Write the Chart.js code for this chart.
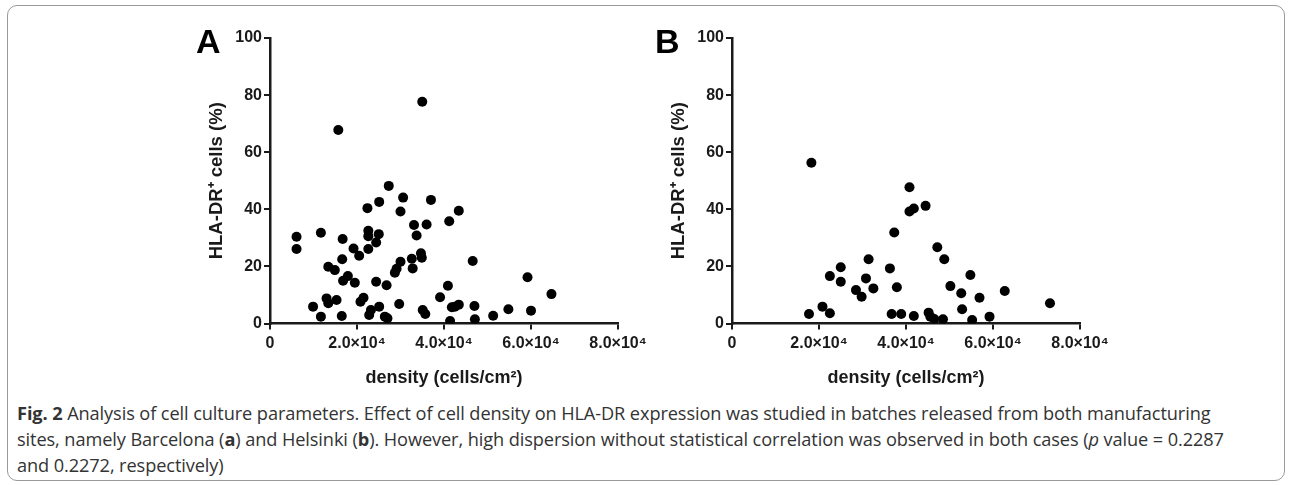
<!DOCTYPE html>
<html>
<head>
<meta charset="utf-8">
<script src="https://cdn.jsdelivr.net/npm/chart.js@4.4.0/dist/chart.umd.min.js"></script>
<style>
    html, body { margin: 0; padding: 0; background: #fff; }
    body { width: 1292px; height: 485px; position: relative; overflow: hidden; }
    .frame { position: absolute; left: 7px; top: 5px; width: 1276px; height: 474px;
             border: 1px solid #9a9a9a; border-radius: 10px; }
    canvas { position: absolute; }
    .panel-tag { position: absolute; font-family: "Liberation Sans", Arial, sans-serif;
                 font-weight: bold; font-size: 34px; line-height: 34px; color: #000; }
    .caption { position: absolute; left: 17px; top: 401px; width: 1265px;
               font-family: "Open Sans", sans-serif; font-size: 18.2px; line-height: 25.8px;
               color: #333; white-space: nowrap; letter-spacing: -0.1px; }
</style>
</head>
<body>
<div class="frame"></div>
<canvas id="chart_a" width="500" height="380" style="left:160px; top:20px;"></canvas>
<canvas id="chart_b" width="500" height="380" style="left:622px; top:20px;"></canvas>
<div class="panel-tag" style="left:196px; top:24px;">A</div>
<div class="panel-tag" style="left:655px; top:24px;">B</div>
<div class="caption">
    <b>Fig. 2</b> Analysis of cell culture parameters. Effect of cell density on HLA-DR expression was studied in batches released from both manufacturing<br>
    sites, namely Barcelona (<b>a</b>) and Helsinki (<b>b</b>). However, high dispersion without statistical correlation was observed in both cases (<i>p</i> value = 0.2287<br>
    and 0.2272, respectively)
</div>

<script>
// Barcelona (A): cell density vs HLA-DR+ cells
const barcelona_density = [
    6100, 6100, 11700, 16700, 19200, 20500, 22400, 25100, 27300, 30600,
    30000, 22600, 22600, 25000, 24400, 22600, 33100, 33700, 16600, 13400,
    14900, 17900, 16800, 19500, 24400, 26800, 28700, 29100, 30000, 32600,
    32800, 9900, 13000, 13400, 15300, 11700, 16500, 20800, 21500, 23200,
    22800, 25100, 26400, 27000, 29700, 35100, 15700, 35000, 37000, 43400,
    36000, 41200, 34700, 34900, 46600, 40900, 39100, 35700, 41800, 42500,
    43400, 47000, 41400, 47100, 51300, 54800, 59200, 60000, 64700
]
const barcelona_hla = [
    30.4, 26.1, 31.8, 29.6, 26.3, 23.7, 40.4, 42.6, 48.2, 44.1,
    39.2, 32.5, 30.6, 31.3, 28.4, 26.1, 34.5, 30.8, 22.5, 19.9,
    18.7, 16.6, 15.0, 14.3, 14.6, 13.4, 17.8, 19.2, 21.6, 22.7,
    19.3, 5.9, 8.8, 7.1, 8.2, 2.4, 2.6, 7.6, 9.0, 4.7,
    3.0, 5.9, 2.4, 1.8, 6.8, 4.7, 67.8, 77.7, 43.3, 39.5,
    34.7, 35.8, 24.6, 23.0, 21.9, 13.2, 9.2, 3.3, 5.7, 5.9,
    6.6, 6.1, 0.9, 1.5, 2.7, 5.0, 16.2, 4.5, 10.3
]

// Helsinki (B)
const helsinki_density = [
    17700, 18250, 20800, 22500, 22500, 25000, 25000, 28500, 29800, 30800,
    31400, 32500, 37300, 36300, 37900, 36700, 38900, 40800, 40800, 41800,
    44500, 47200, 48800, 54800, 50200, 52700, 56900, 62700, 73100, 41800,
    45200, 45600, 46500, 48500, 52900, 55200, 59200
]
const helsinki_hla = [
    3.3, 56.3, 5.9, 3.6, 16.6, 19.7, 14.6, 11.7, 9.4, 15.8,
    22.5, 12.3, 31.9, 19.3, 12.7, 3.3, 3.3, 47.7, 39.2, 40.3,
    41.2, 26.7, 22.5, 17.0, 13.1, 10.6, 9.0, 11.4, 7.1, 2.6,
    3.8, 2.4, 1.6, 1.5, 5.0, 1.2, 2.4
]

const x_tick_labels = ['0', '2.0\u00d710\u2074', '4.0\u00d710\u2074', '6.0\u00d710\u2074', '8.0\u00d710\u2074']
const y_tick_labels = ['0', '20', '40', '60', '80', '100']
const x_title = 'density (cells/cm\u00b2)'
const y_title = 'HLA-DR\u207a cells (%)'

const FONT = '"Liberation Sans", Arial, sans-serif'
const INK = '#1a1a1a'

function MakePanel(canvas_id, xs, ys) {
    const ctx = document.getElementById(canvas_id).getContext('2d')
    const points = xs.map((x, i) => ({x: x, y: ys[i]}))
    return new Chart(ctx, {
        type: 'scatter',
        data: {
            datasets: [{
                data: points,
                backgroundColor: '#000',
                borderWidth: 0,
                pointRadius: 5,
                pointHoverRadius: 5
            }]
        },
        options: {
            responsive: false,
            animation: false,
            layout: { padding: { left: 0, top: 18, right: 42, bottom: 0 } },
            plugins: { legend: { display: false }, tooltip: { enabled: false } },
            scales: {
                x: {
                    type: 'linear', min: 0, max: 80000,
                    afterFit(scale) { scale.height = 76.5 },
                    ticks: {
                        stepSize: 20000, autoSkip: false, maxRotation: 0, padding: 4,
                        color: INK, font: { family: FONT, weight: 'bold', size: 16 },
                        callback: (v) => x_tick_labels[Math.round(v / 20000)]
                    },
                    grid: { drawOnChartArea: false, drawTicks: true, tickLength: 6, color: INK, lineWidth: 2 },
                    border: { display: true, color: INK, width: 2.5 },
                    title: {
                        display: true, text: x_title, color: INK,
                        font: { family: FONT, weight: 'bold', size: 18 },
                        padding: { top: 0, bottom: 11 }
                    }
                },
                y: {
                    type: 'linear', min: 0, max: 100,
                    afterFit(scale) { scale.width = 110 },
                    ticks: {
                        stepSize: 20, padding: 2,
                        color: INK, font: { family: FONT, weight: 'bold', size: 16 },
                        callback: (v) => y_tick_labels[Math.round(v / 20)]
                    },
                    grid: { drawOnChartArea: false, drawTicks: true, tickLength: 6, color: INK, lineWidth: 2 },
                    border: { display: true, color: INK, width: 2.5 },
                    title: {
                        display: true, text: y_title, color: INK,
                        font: { family: FONT, weight: 'bold', size: 18.5 },
                        padding: { top: 46, bottom: 0 }
                    }
                }
            }
        }
    })
}

MakePanel('chart_a', barcelona_density, barcelona_hla)
MakePanel('chart_b', helsinki_density, helsinki_hla)
</script>
</body>
</html>
